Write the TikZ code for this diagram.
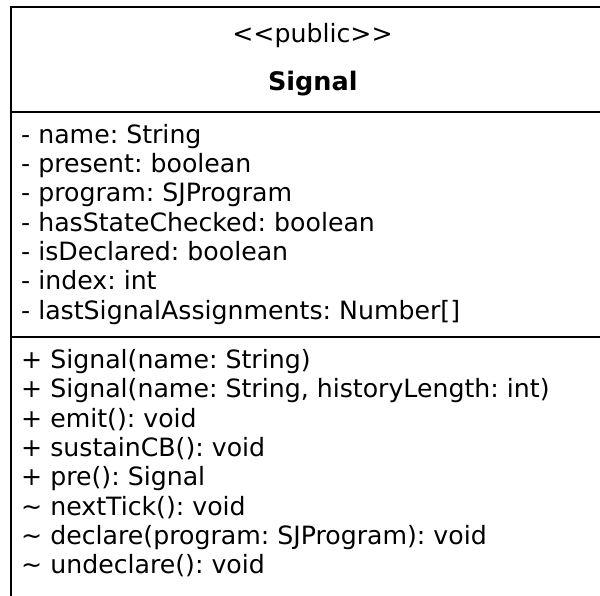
\documentclass[tikz,border=0pt]{standalone}
\usepackage{fontspec}
\setmainfont{DejaVu Sans}
\frenchspacing
\begin{document}
\begin{tikzpicture}[x=1pt,y=-1pt,
  member/.style={anchor=base west,inner sep=0pt,font=\fontsize{25.2}{29}\selectfont},
  title/.style={anchor=base,inner sep=0pt,font=\fontsize{25.2}{29}\selectfont},
  frame/.style={draw=black,line width=2pt}]
\useasboundingbox (0,0) rectangle (600,595);
\clip (0,0) rectangle (600,595);
% class box (extends past the right and bottom edges)
\draw[frame] (11,7.3) rectangle (614,640);
\draw[frame] (11,111.7) -- (614,111.7);
\draw[frame] (11,336.7) -- (614,336.7);
% header
\node[title] (stereo) at (312.5,42.3) {{<}{<}public{>}{>}};
\node[title,font=\fontsize{25.5}{29}\selectfont\bfseries] (cname) at (312.8,90) {Signal};
% attributes
\node[member] (a1) at (21,143.3) {- name: String};
\node[member] (a2) at (21,172.6) {- present: boolean};
\node[member] (a3) at (21,201.9) {- program: SJProgram};
\node[member] (a4) at (21,231.2) {- hasStateChecked: boolean};
\node[member] (a5) at (21,260.5) {- isDeclared: boolean};
\node[member] (a6) at (21,289.8) {- index: int};
\node[member] (a7) at (21,319.1) {- lastSignalAssignments: Number[]};
% operations
\node[member] (m1) at (21,368.5) {+ Signal(name: String)};
\node[member] (m2) at (21,397.8) {+ Signal(name: String, historyLength: int)};
\node[member] (m3) at (21,427.1) {+ emit(): void};
\node[member] (m4) at (21,456.4) {+ sustainCB(): void};
\node[member] (m5) at (21,485.7) {+ pre(): Signal};
\node[member] (m6) at (21,515.0) {\char"007E{} nextTick(): void};
\node[member] (m7) at (21,544.3) {\char"007E{} declare(program: SJProgram): void};
\node[member] (m8) at (21,573.6) {\char"007E{} undeclare(): void};
\end{tikzpicture}
\end{document}
